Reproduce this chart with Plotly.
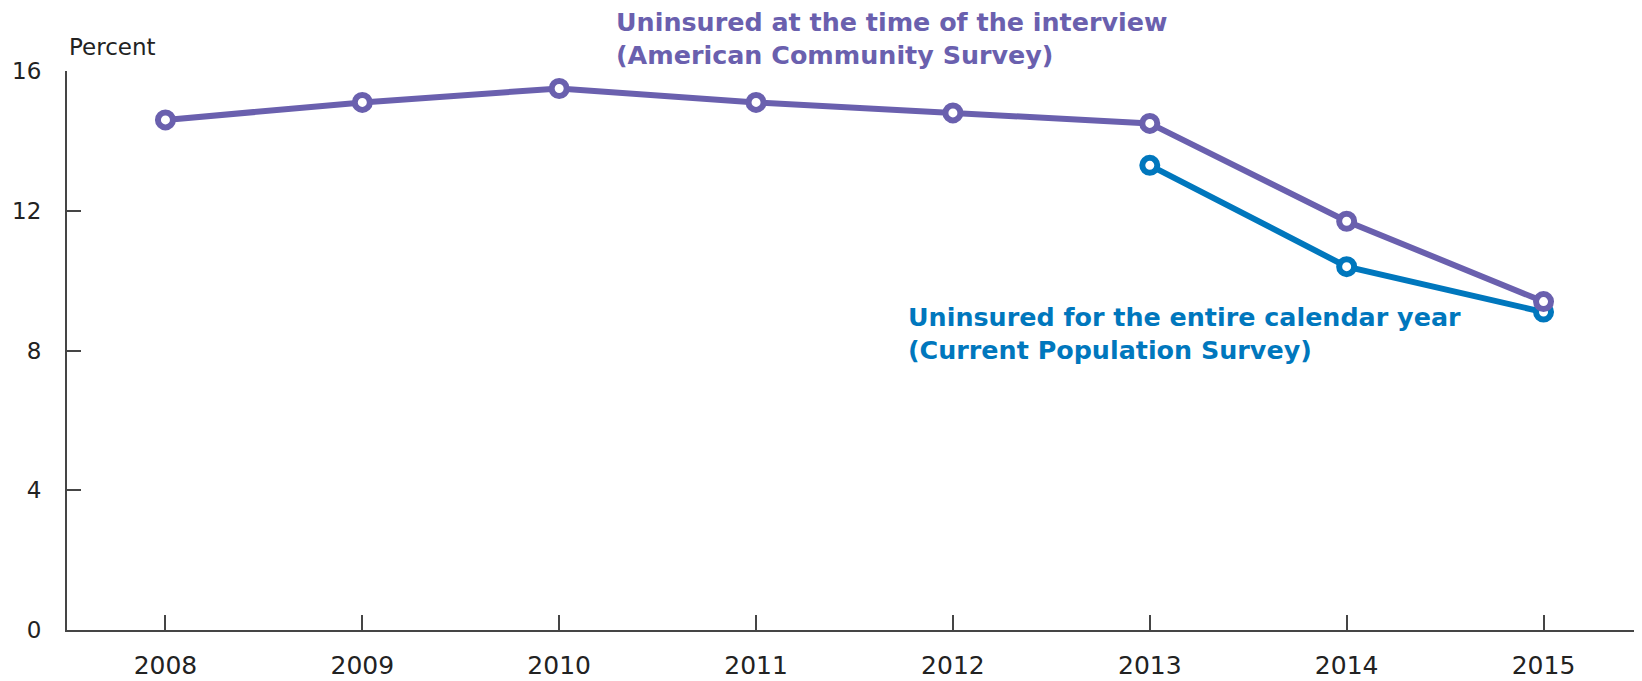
import plotly.graph_objects as go

years = [2008, 2009, 2010, 2011, 2012, 2013, 2014, 2015]
acs_uninsured = [14.6, 15.1, 15.5, 15.1, 14.8, 14.5, 11.7, 9.4]
cps_years = [2013, 2014, 2015]
cps_uninsured = [13.3, 10.4, 9.1]
y_ticks = [0, 4, 8, 12, 16]

PURPLE = '#6a60ae'
BLUE = '#0077bd'
AXIS = '#454545'
FONT = 'DejaVu Sans'

fig = go.Figure()
# CPS first, so the ACS marker sits on top at 2015
fig.add_trace(go.Scatter(
    x=cps_years, y=cps_uninsured, mode='lines+markers',
    line=dict(color=BLUE, width=6),
    marker=dict(size=15, color='white', line=dict(color=BLUE, width=6)),
    hoverinfo='x+y', showlegend=False))
fig.add_trace(go.Scatter(
    x=years, y=acs_uninsured, mode='lines+markers',
    line=dict(color=PURPLE, width=6),
    marker=dict(size=15, color='white', line=dict(color=PURPLE, width=6)),
    hoverinfo='x+y', showlegend=False))

fig.add_annotation(x=2010.28, y=1.058, xref='x', yref='paper', xanchor='left', yanchor='middle',
                   text='<b>Uninsured at the time of the interview<br>(American Community Survey)</b>',
                   showarrow=False, align='left',
                   font=dict(family=FONT, size=25.4, color=PURPLE))
fig.add_annotation(x=2011.76, y=8.49, xref='x', yref='y', xanchor='left', yanchor='middle',
                   text='<b>Uninsured for the entire calendar year<br>(Current Population Survey)</b>',
                   showarrow=False, align='left',
                   font=dict(family=FONT, size=25.4, color=BLUE))
fig.add_annotation(x=0, y=1, xref='paper', yref='paper', xanchor='left', yanchor='bottom',
                   yshift=9, text='Percent', showarrow=False,
                   font=dict(family=FONT, size=23, color='#222222'))

# the page body adds an 8px offset, so the figure is drawn 8px smaller
fig.update_layout(
    width=1634, height=673,
    margin=dict(l=59, r=2, t=63, b=51),
    paper_bgcolor='white', plot_bgcolor='white',
    font=dict(family=FONT, size=24, color='#222222'),
)
fig.update_xaxes(range=[2007.5, 2015.49], tickvals=years, ticktext=[str(y) for y in years],
                 showgrid=False, zeroline=False, showline=True, linecolor=AXIS, linewidth=2,
                 ticks='inside', ticklen=15, tickwidth=2, tickcolor=AXIS,
                 ticklabelstandoff=12, automargin=False, tickfont=dict(size=25))
fig.update_yaxes(range=[0, 16], tickvals=y_ticks, showgrid=False, zeroline=False,
                 showline=True, linecolor=AXIS, linewidth=2,
                 ticks='inside', ticklen=14, tickwidth=2, tickcolor=AXIS,
                 ticklabelstandoff=19, automargin=False, tickfont=dict(size=23))

fig.write_html('out.html')
